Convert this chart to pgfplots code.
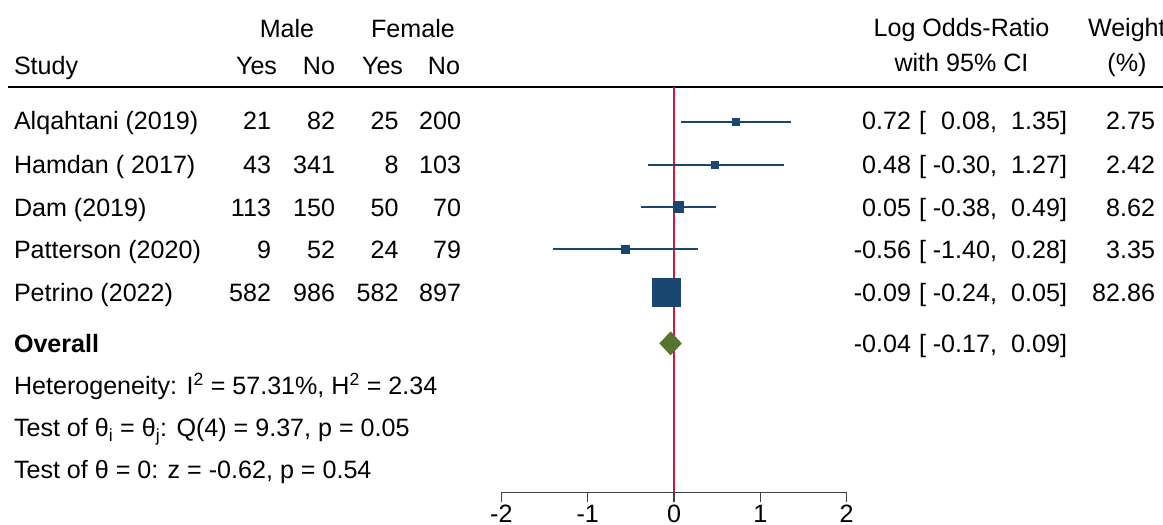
\documentclass[border=0pt]{standalone}
\usepackage{fontspec}
\setmainfont{Liberation Sans}
\usepackage{pgfplots}
\usepackage{pgfplotstable}
\pgfplotsset{compat=1.18}
\definecolor{navyc}{RGB}{26,71,111}
\definecolor{forestc}{RGB}{85,117,47}
\definecolor{refred}{RGB}{215,20,60}
\definecolor{axgray}{RGB}{64,64,64}

% y = row position (pixel row), est/lo/hi = log odds-ratio with 95% CI, msize = half side of square
\pgfplotstableread{
y     est   lo    hi    msize
122.3  0.72  0.08 1.35  3.65
164.7  0.48 -0.30 1.27  3.5
207.0  0.05 -0.38 0.49  5.35
249.3 -0.56 -1.40 0.28  3.85
292.3 -0.09 -0.24 0.05  13.8
}\studies

\begin{document}
\begin{tikzpicture}[font=\fontsize{25.1pt}{30pt}\selectfont]
\begin{axis}[at={(0,0)}, anchor=south west, scale only axis,
  width=1163pt, height=525pt,
  xmin=-7.810, xmax=5.666, ymin=0, ymax=525, y dir=reverse,
  hide axis, clip=false]
% header rule
\addplot[black, line width=1.8pt, forget plot] coordinates {(-7.717,87) (5.666,87)};
% no-effect line
\addplot[refred, line width=1.8pt, forget plot] coordinates {(0,87) (0,492.7)};
% confidence intervals
\addplot[only marks, mark=none, forget plot,
  error bars/.cd, x dir=both, x explicit, error mark=none,
  error bar style={draw=navyc, line width=1.9pt}]
  table[x=est, y=y, x error plus expr=\thisrow{hi}-\thisrow{est},
        x error minus expr=\thisrow{est}-\thisrow{lo}] {\studies};
% study squares
\addplot[scatter, only marks, mark=square*, forget plot,
  scatter/use mapped color={draw=navyc, fill=navyc},
  mark options={line width=0pt},
  visualization depends on={\thisrow{msize} \as \msize},
  scatter/@pre marker code/.append style={/tikz/mark size=\msize}]
  table[x=est, y=y] {\studies};
% overall diamond
\addplot[fill=forestc, draw=none, forget plot]
  coordinates {(-0.17,343.4) (-0.04,331.4) (0.09,343.4) (-0.04,355.4)} -- cycle;
\end{axis}

% x axis
\begin{axis}[at={(501.4pt,32.3pt)}, anchor=south west, scale only axis,
  width=345.2pt, height=10pt,
  xmin=-2, xmax=2, ymin=0, ymax=1,
  axis y line=none, axis x line*=bottom,
  x axis line style={draw=axgray, line width=1.4pt, -},
  xtick={-2,-1,0,1,2}, xticklabels={{-2},{-1},{0},{1},{2}},
  xtick align=outside, major tick length=9pt,
  x tick style={draw=axgray, line width=1.4pt},
  xticklabel style={font=\fontsize{25.1pt}{30pt}\selectfont, anchor=base, inner sep=0pt, yshift=-20.8pt},
  ]
\addplot[draw=none, forget plot] coordinates {(-2,0) (2,0)};
\end{axis}

\begin{scope}[x=1pt, y=-1pt, shift={(0pt,525pt)},
  every node/.style={inner sep=0pt, outer sep=0pt},
  L/.style={anchor=base west}, R/.style={anchor=base east}, C/.style={anchor=base}]
% headers
\node[C] at (287,38) {Male};
\node[C] at (413,38) {Female};
\node[L] at (14,75) {Study};
\node[R] at (277,75) {Yes};
\node[R] at (335,75) {No};
\node[R] at (403,75) {Yes};
\node[R] at (460,75) {No};
\node[C] at (961.5,37) {Log Odds-Ratio};
\node[C] at (961.5,72) {with 95\% CI};
\node[L] at (1088,37) {Weight};
\node[C] at (1127,72) {(\%)};
% rows
\foreach \yy/\name/\a/\b/\c/\d/\est/\lo/\hi/\w in {
  130/Alqahtani (2019)/21/82/25/200/0.72/0.08/1.35/2.75,
  174/Hamdan ( 2017)/43/341/8/103/0.48/-0.30/1.27/2.42,
  216.7/Dam (2019)/113/150/50/70/0.05/-0.38/0.49/8.62,
  259/Patterson (2020)/9/52/24/79/-0.56/-1.40/0.28/3.35,
  301.7/Petrino (2022)/582/986/582/897/-0.09/-0.24/0.05/82.86}{
  \node[L] at (14,\yy) {\name};
  \node[R] at (271,\yy) {\a};
  \node[R] at (335,\yy) {\b};
  \node[R] at (398.5,\yy) {\c};
  \node[R] at (461,\yy) {\d};
  \node[R] at (911,\yy) {\est};
  \node[L] at (919,\yy) {[};
  \node[R] at (997,\yy) {\lo,};
  \node[R] at (1067,\yy) {\hi]};
  \node[R] at (1155,\yy) {\w};
}
% overall
\node[L] at (14,352.5) {\bfseries Overall};
\node[R] at (911,352.5) {-0.04};
\node[L] at (919,352.5) {[};
\node[R] at (997,352.5) {-0.17,};
\node[R] at (1067,352.5) {0.09]};
% statistics
\node[L] at (14,395) {Heterogeneity: I\textsuperscript{2} = 57.31\%, H\textsuperscript{2} = 2.34};
\node[L] at (14,437) {Test of θ\textsubscript{i} = θ\textsubscript{j}: Q(4) = 9.37, p = 0.05};
\node[L] at (14,478.5) {Test of θ = 0: z = -0.62, p = 0.54};
\end{scope}

\pgfresetboundingbox
\useasboundingbox (0,0) rectangle (1163pt,525pt);
\end{tikzpicture}
\end{document}
